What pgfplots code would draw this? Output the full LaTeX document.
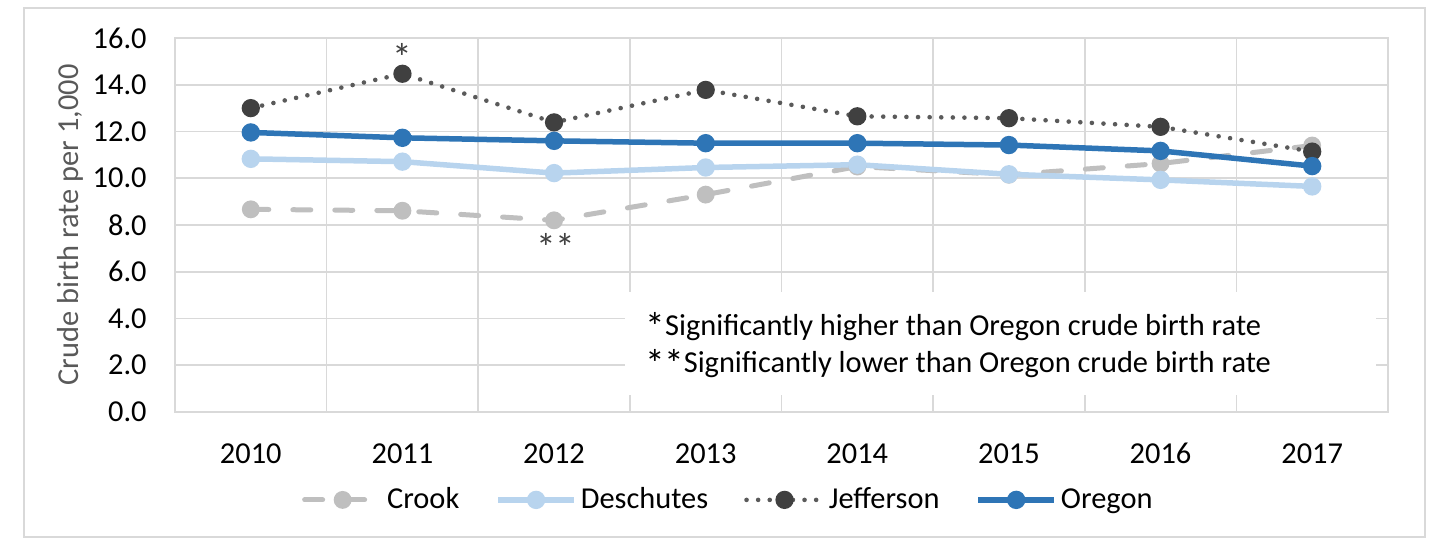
\documentclass[border=0pt]{standalone}
\usepackage{graphicx}
\usepackage{pgfplots}
\pgfplotsset{compat=1.18}
\usepackage{fontspec}
\setmainfont{Carlito}

\definecolor{oregon}{HTML}{2E75B6}
\definecolor{deschutes}{HTML}{B8D4EE}
\definecolor{crook}{HTML}{BFBFBF}
\definecolor{jeffline}{HTML}{5A5A5A}
\definecolor{jeffmark}{HTML}{404040}
\definecolor{gridgray}{HTML}{D9D9D9}
\definecolor{labelgray}{HTML}{595959}

\newcommand{\chartfont}{\fontsize{15.2}{18}\selectfont}
% Carlito's asterisk is smaller than Calibri's
\newcommand{\bigast}{\raisebox{-2.4pt}{\scalebox{1.3}{*}}}

\begin{document}
\begin{tikzpicture}
  % page size = 1440x541 px at 0.5pt per px
  \path (0pt,0pt) rectangle (720pt,270.5pt);
  \draw[gridgray, line width=0.8pt] (12pt,2pt) rectangle (712.5pt,266.5pt);

  \begin{axis}[
      at={(87.5pt,64.5pt)}, anchor=south west,
      scale only axis, width=606.5pt, height=187pt,
      xmin=-0.5, xmax=7.5, ymin=0, ymax=16,
      xtick={0,...,7},
      xticklabels={2010,2011,2012,2013,2014,2015,2016,2017},
      minor xtick={-0.5,0.5,...,7.5},
      ytick={0,2,...,16},
      xminorgrids, ymajorgrids,
      major tick length=0pt, minor tick length=0pt,
      axis line style={gridgray, line width=0.8pt},
      grid style={gridgray, line width=0.8pt},
      minor grid style={gridgray, line width=0.8pt},
      tick label style={font=\chartfont, text=black},
      /pgf/number format/assume math mode=true,
      yticklabel style={inner sep=0pt, xshift=-14pt,
        /pgf/number format/.cd, fixed, fixed zerofill, precision=1},
      xticklabel style={inner sep=0pt, yshift=-15.5pt},
      ylabel={Crude birth rate per 1,000},
      ylabel style={at={(axis description cs:-0.0866,0.5)}, anchor=center,
        font=\chartfont, text=labelgray},
      legend columns=4,
      legend style={at={(axis description cs:0.457,-0.235)}, anchor=center,
        draw=none, fill=none, font=\chartfont,
        /tikz/every even column/.append style={column sep=16pt}},
      legend image code/.code={%
        \draw[mark repeat=2, mark phase=2]
          plot coordinates {(0pt,0pt) (19pt,0pt) (38pt,0pt)};},
    ]

    % white box behind the note
    \fill[white] (axis cs:2.47,0.73) rectangle (axis cs:7.42,5.13);

    \addplot[crook, line width=2.5pt, line cap=round,
      dash pattern=on 9pt off 12pt,
      mark=*, mark size=3.2pt, mark options={solid, fill=crook, draw=crook}]
      coordinates {
        (0,8.67) (1,8.61) (2,8.2) (3,9.3) (4,10.5) (5,10.15) (6,10.63) (7,11.4)
      };
    \addlegendentry{Crook}

    \addplot[deschutes, line width=2.75pt,
      mark=*, mark size=3.2pt, mark options={solid, fill=deschutes, draw=deschutes}]
      coordinates {
        (0,10.83) (1,10.71) (2,10.22) (3,10.46) (4,10.58) (5,10.17) (6,9.93) (7,9.65)
      };
    \addlegendentry{Deschutes}

    \addplot[jeffline, line width=2.3pt, line cap=round,
      dash pattern=on 0pt off 5.8pt,
      mark=*, mark size=3.4pt, mark options={solid, fill=jeffmark, draw=jeffmark}]
      coordinates {
        (0,13.0) (1,14.47) (2,12.39) (3,13.78) (4,12.65) (5,12.57) (6,12.2) (7,11.14)
      };
    \addlegendentry{Jefferson}

    \addplot[oregon, line width=2.75pt,
      mark=*, mark size=3.2pt, mark options={solid, fill=oregon, draw=oregon}]
      coordinates {
        (0,11.96) (1,11.73) (2,11.6) (3,11.5) (4,11.5) (5,11.42) (6,11.17) (7,10.52)
      };
    \addlegendentry{Oregon}

    \node[anchor=base, font=\chartfont, text=jeffmark, inner sep=0pt]
      at (axis cs:1,14.76) {\bigast};
    \node[anchor=base, font=\chartfont, text=jeffmark, inner sep=0pt]
      at (axis cs:2.01,6.63) {\bigast\kern-0.5pt\bigast};

    \node[anchor=west, align=left, inner sep=0pt,
      font=\fontsize{15.2}{18.4}\selectfont] at (axis cs:2.60,2.87)
      {\bigast Significantly higher than Oregon crude birth rate\\
       \bigast\kern-0.5pt\bigast Significantly lower than Oregon crude birth rate};
  \end{axis}
\end{tikzpicture}
\end{document}
